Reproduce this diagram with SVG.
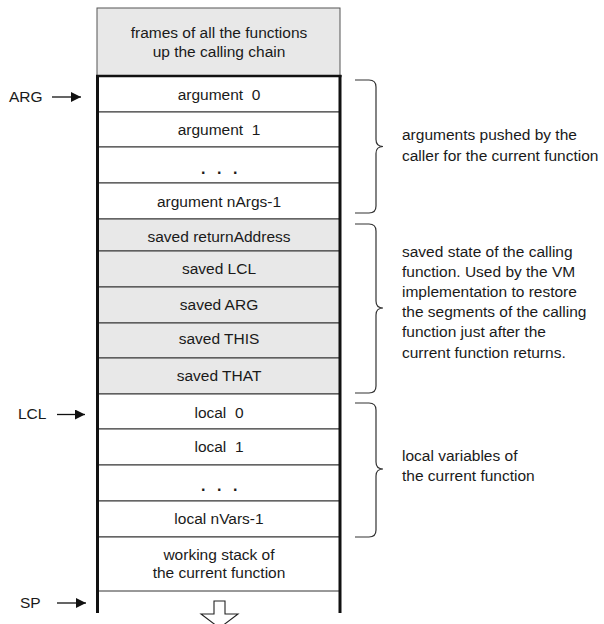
<svg xmlns="http://www.w3.org/2000/svg" width="604" height="624" viewBox="0 0 604 624">
<defs>
<style>
text{font-family:"Liberation Sans",Arial,Helvetica,sans-serif;font-size:15.5px;fill:#1a1a1a;white-space:pre}
.c{text-anchor:middle}
.dots{font-weight:bold;font-size:16px;letter-spacing:3.55px}
.cell{stroke:#333;stroke-width:1}
.w{fill:#fff}
.g{fill:#e8e8e8}
.brace{fill:none;stroke:#333;stroke-width:1.2}
.ptr{stroke:#111;stroke-width:1.3;fill:none}
</style>
<marker id="ah" viewBox="0 0 10 10" refX="10" refY="5" markerWidth="11" markerHeight="10" markerUnits="userSpaceOnUse" orient="auto">
<path d="M0,0 L10,5 L0,10 Z" fill="#111"/>
</marker>
</defs>
<rect width="604" height="624" fill="#fff"/>

<g id="frames">
<rect x="97" y="8" width="243" height="68" fill="#e8e8e8" stroke="#555" stroke-width="1"/>
<text class="c" x="219" y="38">frames of all the functions</text>
<text class="c" x="219" y="57">up the calling chain</text>
</g>

<g id="arg0"><rect class="cell w" x="97" y="76" width="243" height="36"/><text class="c" x="219" y="99.5">argument  0</text></g>
<g id="arg1"><rect class="cell w" x="97" y="112" width="243" height="35"/><text class="c" x="219" y="134.5">argument  1</text></g>
<g id="argdots"><rect class="cell w" x="97" y="147" width="243" height="36"/><text class="c dots" x="221" y="174">. . .</text></g>
<g id="argN"><rect class="cell w" x="97" y="183" width="243" height="36"/><text class="c" x="219" y="207">argument nArgs-1</text></g>

<g id="savedRet"><rect class="cell g" x="97" y="219" width="243" height="32"/><text class="c" x="219" y="242">saved returnAddress</text></g>
<g id="savedLCL"><rect class="cell g" x="97" y="251" width="243" height="36"/><text class="c" x="219" y="274">saved LCL</text></g>
<g id="savedARG"><rect class="cell g" x="97" y="287" width="243" height="36"/><text class="c" x="219" y="309.5">saved ARG</text></g>
<g id="savedTHIS"><rect class="cell g" x="97" y="323" width="243" height="35"/><text class="c" x="219" y="343.5">saved THIS</text></g>
<g id="savedTHAT"><rect class="cell g" x="97" y="358" width="243" height="36"/><text class="c" x="219" y="380.5">saved THAT</text></g>

<g id="local0"><rect class="cell w" x="97" y="394" width="243" height="35"/><text class="c" x="219" y="417.5">local  0</text></g>
<g id="local1"><rect class="cell w" x="97" y="429" width="243" height="36"/><text class="c" x="219" y="452">local  1</text></g>
<g id="localdots"><rect class="cell w" x="97" y="465" width="243" height="36"/><text class="c dots" x="221" y="491">. . .</text></g>
<g id="localN"><rect class="cell w" x="97" y="501" width="243" height="36"/><text class="c" x="219" y="523.5">local nVars-1</text></g>
<g id="working"><rect class="cell w" x="97" y="537" width="243" height="54"/><text class="c" x="219" y="559.5">working stack of</text><text class="c" x="219" y="578">the current function</text></g>

<g id="frameBorder" fill="none" stroke="#111">
<line x1="96" y1="76" x2="341.5" y2="76" stroke-width="2.6"/>
<line x1="97.5" y1="75" x2="97.5" y2="613" stroke-width="3"/>
<line x1="340" y1="75" x2="340" y2="613" stroke-width="3"/>
</g>

<g id="braces">
<path class="brace" d="M355,80 H369 Q376,80 376,87 V139.5 Q376,146.5 383,146.5 Q376,146.5 376,153.5 V206 Q376,213 369,213 H355"/>
<path class="brace" d="M355,224 H369 Q376,224 376,231 V301 Q376,308 383,308 Q376,308 376,315 V386 Q376,393 369,393 H355"/>
<path class="brace" d="M355,403 H369 Q376,403 376,410 V462 Q376,469 383,469 Q376,469 376,476 V530 Q376,537 369,537 H355"/>
</g>

<g id="notes">
<text x="402" y="139.5">arguments pushed by the</text>
<text x="402" y="160.5">caller for the current function</text>
<text x="402" y="257">saved state of the calling</text>
<text x="402" y="277">function. Used by the VM</text>
<text x="402" y="297">implementation to restore</text>
<text x="402" y="317">the segments of the calling</text>
<text x="402" y="337">function just after the</text>
<text x="402" y="357.5">current function returns.</text>
<text x="402" y="461">local variables of</text>
<text x="402" y="480.5">the current function</text>
</g>

<g id="pointers">
<text x="9" y="102">ARG</text>
<text x="18" y="419">LCL</text>
<text x="20" y="608">SP</text>
</g>

<g id="connectors">
<line class="ptr" x1="52" y1="97" x2="81" y2="97" marker-end="url(#ah)"/>
<line class="ptr" x1="57" y1="414.5" x2="85" y2="414.5" marker-end="url(#ah)"/>
<line class="ptr" x1="57" y1="603" x2="86" y2="603" marker-end="url(#ah)"/>
<path d="M214,601 H225 V614 H238 L219.5,628 L201,614 H214 Z" fill="#fff" stroke="#222" stroke-width="1.1"/>
</g>
</svg>
